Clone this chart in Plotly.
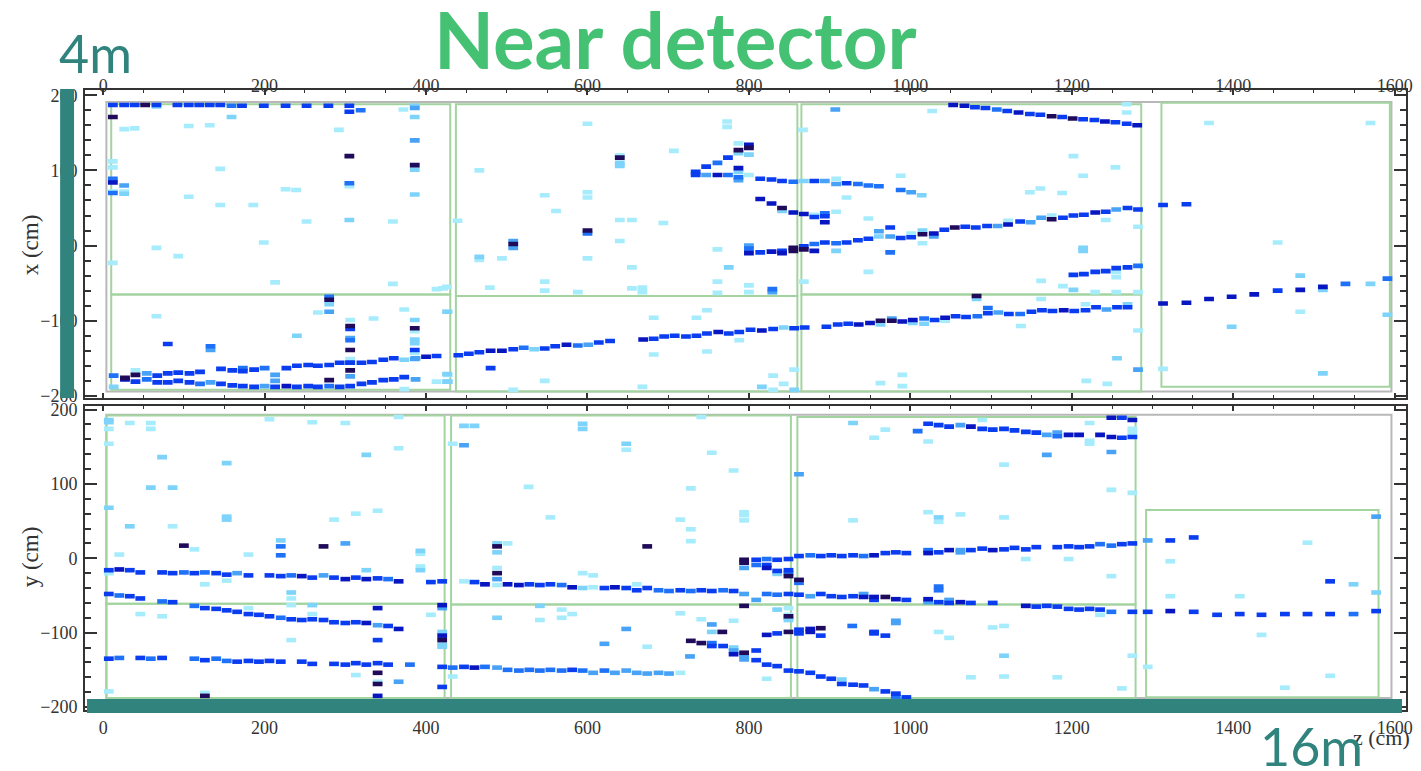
import plotly.graph_objects as go

# ---------------- data: hits (z [cm], transverse coord [cm], charge level 1..7) ----------------
XZ_COL1 = [
    (12,187,5),(26,187,5),(39,187,5),(52,187,7),(66,187,5),(66,185,2),(92,187,5),(106,187,5),(119,187,5),
    (132,187,5),(145,187,5),(159,186,4),(172,186,5),(199,186,5),(226,186,5),(252,186,5),(279,186,5),
    (305,186,5),(305,178,5),(319,180,4),
    (12,171,7),(26,155,1),(39,156,1),(106,159,1),(132,160,1),(159,171,2),(292,154,1),(305,119,7),(372,181,1),
    (386,186,2),(386,183,3),(386,171,2),(386,140,3),(386,107,7),(386,101,2),(386,68,2),(12,112,1),(12,104,1),
    (12,89,4),(12,84,6),(12,72,1),(12,70,4),(26,80,3),(26,72,1),(26,69,2),(145,102,1),(106,65,1),(145,54,1),
    (186,54,1),(226,75,1),(239,74,1),(305,83,4),(305,79,1),(252,32,1),(305,34,2),(359,32,1),(66,-3,1),
    (93,-14,1),(199,4,1),(12,-23,1),(213,-49,1),(359,-51,1),(413,-58,1),(426,-55,1),
    (280,-68,4),(280,-72,7),(280,-78,2),(280,-88,3),(266,-89,1),(426,-88,2),(373,-85,1),(66,-94,1),(335,-97,1),
    (306,-99,1),(306,-107,7),(306,-111,5),(306,-123,3),(306,-126,4),(306,-139,7),(306,-151,1),(306,-156,5),
    (306,-166,7),(306,-174,3),
    (386,-99,2),(386,-110,7),(386,-114,1),(386,-125,2),(386,-130,2),(386,-139,5),(386,-143,1),(386,-151,3),
    (240,-120,2),(80,-131,5),(133,-134,4),(133,-139,3),
    (13,-173,4),(27,-176,7),(40,-172,7),(54,-170,3),(67,-173,5),(80,-170,5),(93,-169,5),(107,-170,5),
    (120,-168,5),(146,-164,5),(160,-166,5),(173,-163,4),(173,-167,5),(187,-165,5),(200,-163,4),(227,-163,5),
    (240,-160,5),(254,-159,5),(266,-160,5),(280,-159,5),(293,-156,5),(306,-156,5),(320,-156,5),(333,-155,5),
    (347,-152,5),(360,-150,5),(373,-152,2),(387,-150,3),(400,-148,6),(413,-147,5),(440,-146,5),(453,-144,5),
    (13,-188,2),(27,-178,6),(40,-181,5),(40,-166,1),(54,-178,4),(67,-182,5),(80,-182,5),(93,-180,5),
    (107,-182,5),(120,-184,4),(133,-182,3),(146,-184,5),(160,-186,5),(173,-187,5),(187,-188,5),(200,-187,3),
    (213,-188,5),(213,-180,3),(213,-172,3),(227,-187,6),(240,-188,5),(254,-187,5),(266,-188,5),(280,-179,7),
    (280,-187,4),(293,-188,5),(306,-187,5),(320,-184,5),(333,-182,5),(347,-179,5),(360,-178,5),(373,-175,5),
    (387,-178,3),(373,-191,1),(413,-181,1),(426,-181,2),(426,-171,2),
]

XZ_COL2 = [
    (600,162,1),(466,100,1),(640,120,1),(640,117,7),(640,110,2),(640,106,2),(707,126,1),(773,165,1),
    (773,158,1),(787,136,1),(787,127,7),(787,123,2),(800,134,6),(800,130,7),(800,121,2),
    (734,98,5),(734,94,5),(747,105,5),(761,110,4),(774,117,5),(787,103,6),(787,98,2),
    (747,94,3),(761,94,6),(774,94,4),(787,91,4),(787,87,3),(800,94,1),(814,89,5),(828,88,5),(841,86,5),
    (855,85,4),(868,86,2),(881,86,5),(894,86,3),(908,89,1),(908,82,3),(921,83,5),(935,82,4),(948,80,4),
    (961,79,4),(988,74,4),(1001,71,3),(1014,67,2),
    (814,62,6),(828,56,6),(841,50,7),(841,46,2),(855,44,6),(868,42,6),(881,38,5),(881,41,1),(894,43,4),
    (894,39,5),(894,31,6),
    (921,64,1),(908,45,1),(948,36,1),(988,93,1),(948,-35,1),
    (800,0,3),(800,-4,4),(800,-10,6),(814,-9,5),(828,-8,6),(841,-7,5),(841,-10,6),(855,-3,7),(855,-7,7),
    (868,-1,5),(868,-5,7),(881,2,4),(881,-7,6),(894,4,5),(908,3,4),(908,-7,2),(921,4,5),(935,7,5),(948,9,5),
    (961,12,2),(961,19,3),(975,24,5),(975,12,3),(975,-9,4),
    (439,33,1),(466,-15,2),(466,-19,1),(494,-17,1),(508,6,3),(508,2,7),(508,-3,3),(547,67,1),(561,46,1),
    (600,71,1),(600,64,1),(600,20,7),(600,16,4),(600,-17,1),(640,34,1),(655,34,1),(640,6,1),(694,30,1),
    (655,-29,1),(761,-5,1),(775,-29,2),(547,-48,1),(547,-60,1),(479,-56,1),(588,-62,1),(655,-57,1),
    (668,-56,1),(668,-62,1),(761,-48,1),(761,-63,1),(800,-53,1),(800,-62,1),(829,-58,4),(829,-62,3),
    (868,-48,1),(867,154,1),(907,181,3),(421,-57,1),
    (466,-142,5),(480,-140,6),(494,-140,6),(508,-138,5),(521,-136,4),(534,-138,2),(547,-137,5),(560,-134,5),
    (574,-132,6),(588,-133,4),(601,-132,3),(614,-129,5),(628,-127,5),(669,-125,6),(682,-124,5),(695,-121,5),
    (708,-120,5),(722,-121,5),(735,-120,5),(748,-117,5),(762,-115,6),(775,-117,5),(788,-115,5),(802,-112,5),
    (816,-113,6),(830,-111,5),(843,-109,2),(856,-110,5),(869,-109,5),(896,-108,5),(910,-105,5),(923,-104,5),
    (936,-105,6),(950,-103,6),(963,-100,7),(963,-105,2),(977,-97,3),(977,-100,7),(990,-101,6),
    (480,-163,5),(427,-88,1),(427,-172,1),(427,-181,2),(508,-192,1),(547,-180,1),(682,-96,1),(682,-145,1),
    (735,-96,1),(748,-86,1),(748,-141,1),(788,-126,1),(668,-188,1),(816,-188,2),(830,-173,1),(830,-192,1),
    (843,-184,1),(856,-165,1),(856,-192,2),(963,-183,1),(990,-172,1),(990,-187,1),
]

XZ_COL3 = [
    (1027,179,1),(1053,187,6),(1067,186,6),(1080,184,5),(1093,183,5),(1107,181,4),(1120,179,5),(1134,177,6),
    (1148,175,5),(1161,174,5),(1175,172,7),(1188,171,5),(1201,169,7),(1214,168,5),(1228,167,5),(1241,165,6),
    (1254,164,5),(1268,162,5),(1281,160,6),(1268,188,1),(1268,177,1),
    (988,10,5),(1001,11,5),(1001,16,1),(1015,15,7),(1015,20,2),(1029,16,6),(1029,12,3),(1042,21,5),
    (1055,24,7),(1068,25,5),(1081,24,5),(1095,26,5),(1108,26,3),(1121,28,6),(1121,33,1),(1136,32,5),
    (1149,31,3),(1162,37,3),(1175,35,7),(1175,40,1),(1189,37,5),(1202,40,5),(1215,41,5),(1229,44,6),
    (1242,45,5),(1255,48,3),(1269,50,5),(1282,48,5),
    (1202,-39,5),(1215,-38,5),(1229,-35,5),(1242,-34,5),(1255,-30,5),(1255,-35,1),(1255,-42,1),(1269,-29,5),
    (1282,-27,4),(1202,-59,2),(1229,-62,1),(1255,-62,1),(1282,-62,1),
    (1202,119,1),(1214,93,1),(1254,104,1),(1148,71,1),(1161,76,1),(1188,70,1),(1015,3,1),(1242,34,1),
    (1282,25,1),(1214,-3,2),(1214,-7,2),(1162,-47,1),(1189,-54,1),(1162,-71,1),(1082,-67,7),(1082,-71,2),
    (1282,-113,1),(1256,-150,2),(1282,-165,3),(1137,-107,1),(1218,-180,1),(1244,-184,1),
    (1003,-99,6),(1003,-103,2),(1017,-97,4),(1017,-104,2),(1030,-99,5),(1043,-96,6),(1043,-100,1),
    (1056,-94,5),(1069,-95,5),(1083,-94,4),(1096,-90,5),(1096,-83,4),(1109,-89,3),(1122,-91,5),(1136,-91,4),
    (1150,-88,5),(1163,-86,5),(1176,-87,5),(1190,-86,6),(1203,-87,5),(1217,-86,5),(1217,-78,1),(1230,-82,5),
    (1243,-85,3),(1256,-82,5),(1269,-82,5),(1269,-78,2),
]

XZ_COL4 = [
    (1313,54,5),(1342,55,5),(1370,163,1),(1570,163,1),(1455,4,1),(1483,-40,2),(1483,-88,1),(1398,-108,2),
    (1511,-170,2),(1591,-92,2),(1313,-164,1),
    (1313,-77,6),(1342,-76,6),(1370,-71,6),(1398,-68,6),(1426,-65,6),(1455,-60,5),(1483,-59,6),(1511,-55,6),
    (1511,-59,2),(1539,-51,4),(1570,-51,2),(1591,-44,4),
]

YZ_COL1 = [
    (7,186,2),(7,183,2),(7,174,1),(7,154,1),(33,182,1),(59,182,1),(59,174,1),(73,136,2),(153,128,2),
    (59,95,2),(86,95,2),(7,68,2),(33,43,2),(86,43,1),(153,56,2),(153,52,2),(100,17,7),(113,12,1),(20,5,1),
    (180,5,1),(220,24,2),(220,16,4),(220,4,4),(273,16,7),(300,20,3),(393,10,2),(393,6,1),(393,-11,1),
    (393,-16,2),(206,187,1),(259,183,1),(300,182,1),(326,139,2),(366,148,1),(366,190,1),(286,52,1),
    (313,60,1),(340,64,1),(447,178,2),(433,154,1),(447,152,3),
    (7,-16,5),(7,-20,1),(20,-15,6),(33,-16,5),(46,-19,5),(73,-19,5),(86,-20,5),(100,-19,4),(113,-20,5),
    (126,-19,4),(140,-20,5),(153,-22,5),(166,-20,3),(180,-23,5),(206,-23,5),(220,-24,5),(233,-23,4),
    (246,-24,6),(259,-26,5),(273,-23,3),(286,-26,5),(300,-28,6),(313,-26,5),(326,-28,6),(340,-27,5),
    (353,-28,4),(366,-31,6),(406,-32,5),(420,-31,5),(447,-31,1),(460,-32,5),
    (7,-48,5),(20,-50,4),(33,-51,5),(46,-54,5),(73,-58,4),(86,-59,5),(113,-64,4),(126,-67,5),(140,-68,5),
    (153,-70,5),(166,-72,5),(180,-75,5),(193,-76,5),(206,-78,5),(220,-80,4),(233,-82,5),(246,-83,5),
    (259,-82,5),(273,-83,5),(286,-86,5),(300,-87,5),(313,-86,5),(326,-87,6),(340,-90,3),(353,-91,5),
    (366,-95,6),
    (46,-75,1),(73,-78,1),(180,-67,1),(233,-46,2),(233,-54,1),(233,-63,1),(259,-63,2),(259,-75,1),
    (233,-110,1),(340,-67,6),(340,-110,5),(406,-76,1),(420,-63,6),(420,-67,3),(420,-99,2),(420,-104,6),
    (420,-110,7),(420,-116,2),(420,-119,2),(126,-35,1),(153,-30,1),(326,-16,2),
    (7,-135,5),(20,-134,4),(46,-134,5),(59,-135,4),(73,-134,5),(113,-135,4),(126,-137,5),(140,-135,4),
    (153,-138,4),(166,-139,5),(180,-138,5),(193,-139,5),(206,-138,5),(220,-139,5),(246,-139,5),(259,-142,5),
    (286,-142,5),(300,-143,5),(313,-141,5),(326,-143,5),(340,-141,5),(353,-143,5),(380,-143,4),(420,-146,5),
    (433,-147,4),(447,-146,5),(460,-147,6),
    (340,-154,7),(340,-166,1),(340,-169,7),(340,-185,6),(366,-166,3),(420,-173,5),(313,-157,1),(433,-159,1),
    (126,-181,1),(126,-185,7),(7,-179,1),
]

YZ_COL2 = [
    (460,178,2),(594,181,2),(594,174,2),(648,154,2),(648,146,1),(741,190,1),(754,142,1),(781,118,1),
    (527,96,1),(554,55,1),(728,94,1),(715,52,1),(728,39,1),(728,23,1),(794,62,1),(794,58,1),(794,51,1),
    (488,16,7),(488,20,2),(488,8,2),(501,20,1),(674,16,7),(488,-13,1),(488,-20,7),(488,-28,3),(488,-36,1),
    (594,-20,1),(607,-23,1),(661,-35,1),
    (473,-35,6),(501,-35,6),(515,-36,6),(528,-35,5),(541,-36,5),(554,-35,5),(568,-36,4),(581,-39,6),
    (594,-40,2),(607,-39,1),(621,-40,5),(634,-39,6),(648,-40,5),(661,-43,5),(674,-40,5),(688,-43,4),
    (701,-44,4),(715,-43,5),(728,-44,4),(741,-43,5),(754,-44,5),(768,-43,4),(781,-44,5),(794,-48,3),
    (809,-56,3),(822,-48,4),(835,-49,4),(849,-48,5),(862,-49,5),(876,-51,3),(889,-48,5),(902,-51,5),
    (915,-52,5),(929,-51,5),(942,-48,3),(942,-52,6),(955,-52,6),(955,-56,5),(969,-52,7),(982,-55,6),
    (995,-56,5),
    (473,-146,4),(488,-147,3),(501,-150,4),(515,-151,4),(528,-150,4),(541,-151,4),(554,-150,4),(568,-151,4),
    (581,-150,5),(594,-151,4),(607,-154,3),(621,-151,4),(634,-154,3),(648,-151,3),(661,-154,3),(674,-155,3),
    (688,-154,3),(701,-155,3),(715,-154,1),
    (728,-111,7),(741,-114,7),(754,-118,5),(754,-114,4),(768,-118,5),(781,-120,2),(781,-124,3),(781,-129,6),
    (794,-127,7),(794,-131,3),(794,-136,3),(809,-137,5),(822,-143,5),(835,-145,5),(849,-151,5),(862,-152,5),
    (876,-154,5),(889,-159,5),(902,-162,5),(915,-163,2),(915,-169,5),(929,-170,5),(942,-171,5),(955,-176,3),
    (969,-179,5),(982,-182,5),(982,-186,4),(995,-187,5),
    (809,-124,5),(822,-103,6),(835,-101,5),(849,-99,7),(862,-96,5),(862,-101,5),(876,-95,6),(876,-99,6),
    (889,-94,7),(889,-104,5),(928,-91,4),(955,-101,5),(955,-99,5),(969,-104,5),(982,-84,3),(982,-87,3),
    (767,-99,7),(754,-89,3),(754,-99,2),(727,-132,3),(715,-74,1),(741,-82,1),(781,-84,1),(835,-69,2),
    (849,-67,1),(849,-76,1),(849,-80,2),(849,-83,2),(849,-78,7),(794,-64,7),
    (862,-29,7),(862,-33,4),(849,-16,5),(849,-20,4),(849,-24,7),(835,-17,5),(835,-21,2),(822,-1,4),
    (822,-9,5),(822,-13,6),(809,-2,5),(809,-9,4),(794,-2,7),(794,-6,7),(794,-13,3),(849,-1,5),(835,-2,5),
    (862,3,5),(876,4,4),(889,3,5),(902,4,5),(915,3,5),(929,4,5),(942,3,4),(955,4,6),(969,7,5),(982,8,5),
    (995,7,5),
    (488,-80,2),(541,-64,2),(541,-83,1),(568,-69,1),(568,-80,1),(581,-75,1),(621,-115,3),(648,-95,3),
    (674,-119,1),(822,-162,1),
    (929,182,2),(955,162,1),(969,173,1),(862,113,3),(929,51,1),
]

YZ_COL3 = [
    (1009,171,4),(1022,181,5),(1035,179,5),(1048,177,5),(1062,179,3),(1075,177,6),(1089,174,5),(1102,173,5),
    (1116,174,5),(1129,172,5),(1143,170,5),(1156,169,5),(1169,166,3),(1182,169,3),(1182,164,4),(1196,166,6),
    (1209,166,6),(1235,166,6),(1249,163,6),(1262,162,5),(1275,163,5),
    (1249,189,6),(1262,189,5),(1275,186,6),
    (1022,157,1),(1089,186,1),(1222,182,1),(1222,158,1),(1222,154,1),(1249,143,3),(1169,139,3),(1116,126,1),
    (1275,174,1),(1275,169,1),(1249,92,1),(1275,88,1),(1022,62,1),(1035,55,2),(1035,49,1),(1062,59,1),
    (1116,55,1),(1143,-1,1),(1196,-1,1),(1249,-24,1),
    (1022,11,4),(1022,7,6),(1035,8,5),(1048,11,6),(1062,11,3),(1062,8,3),(1075,11,5),(1089,13,5),
    (1102,11,6),(1116,12,5),(1129,14,5),(1143,12,5),(1156,15,5),(1182,15,5),(1196,16,5),(1209,15,5),
    (1222,16,5),(1235,19,4),(1249,17,4),(1262,19,5),(1275,20,5),
    (1022,-55,6),(1022,-59,3),(1035,-59,5),(1048,-56,3),(1048,-60,5),(1062,-59,6),(1075,-60,5),(1102,-60,5),
    (1143,-64,6),(1156,-65,5),(1169,-64,5),(1182,-65,5),(1196,-68,5),(1209,-69,5),(1222,-68,5),(1235,-69,5),
    (1235,-76,1),(1249,-72,4),(1275,-72,5),
    (1035,-38,4),(1035,-43,4),(1035,-99,1),(1048,-107,1),(1102,-93,1),(1116,-91,1),(1116,-131,2),
    (1075,-160,1),(1116,-159,1),(1182,-160,1),(1262,-175,1),(1275,-131,1),
]

YZ_COL4 = [
    (1294,-72,5),(1322,-71,6),(1351,-72,5),(1380,-76,5),(1408,-75,5),(1435,-76,5),(1464,-75,5),(1492,-75,5),
    (1520,-75,5),(1549,-75,4),(1577,-71,5),
    (1294,24,3),(1322,24,5),(1351,28,5),
    (1322,-4,1),(1322,-51,1),(1408,-51,1),(1492,21,1),(1520,-31,5),(1549,-35,2),(1577,56,3),(1577,-46,2),
    (1435,-103,1),(1520,-158,1),(1464,-174,1),(1294,-146,1),
]

# detector module outlines (z0, z1, v0, v1)
XZ_OUTER = [(4, 1596, -194, 191)]
XZ_MODULES = [(10, 430, -65, 188), (10, 430, -192, -65), (437, 860, -67, 188), (437, 860, -194, -67),
              (865, 1286, -65, 188), (865, 1286, -194, -65), (1311, 1594, -188, 190)]
YZ_OUTER = [(4, 1596, -188, 193)]
YZ_MODULES = [(4, 423, -61, 192), (4, 423, -188, -61), (431, 852, -62, 192), (431, 852, -188, -62),
              (860, 1279, -62, 190), (860, 1279, -188, -62), (1292, 1580, -187, 65)]

Z_RANGE = [-22.5, 1614]
XZ_RANGE = [-203, 207]
YZ_RANGE = [-204, 204.5]

LEVEL_COLORS = {1: "#a6ecfc", 2: "#7ed3fa", 3: "#48a2f5", 4: "#1f72f7",
                5: "#0a3cf0", 6: "#0716c0", 7: "#1f0b5a"}

TEAL = "#31847e"
AXC = "#333333"
SERIF = "Liberation Serif, DejaVu Serif, serif"

fig = go.Figure()


def add_hits(hits, xa, ya):
    for lvl in range(1, 8):
        pts = [h for h in hits if h[2] == lvl]
        if not pts:
            continue
        fig.add_trace(go.Scatter(
            x=[p[0] for p in pts], y=[p[1] for p in pts], xaxis=xa, yaxis=ya,
            mode="markers", hoverinfo="skip", showlegend=False,
            marker=dict(symbol="line-ew", size=7, color=LEVEL_COLORS[lvl],
                        line=dict(width=4.6, color=LEVEL_COLORS[lvl]))))


add_hits(XZ_COL1 + XZ_COL2 + XZ_COL3 + XZ_COL4, "x", "y")
add_hits(YZ_COL1 + YZ_COL2 + YZ_COL3 + YZ_COL4, "x2", "y2")

shapes = []
for boxes, color, xr, yr in [(XZ_OUTER, "#b8b8b8", "x", "y"), (XZ_MODULES, "#a3d4a0", "x", "y"),
                             (YZ_OUTER, "#b8b8b8", "x2", "y2"), (YZ_MODULES, "#a3d4a0", "x2", "y2")]:
    for (z0, z1, v0, v1) in boxes:
        shapes.append(dict(type="rect", xref=xr, yref=yr, x0=z0, x1=z1, y0=v0, y1=v1,
                           line=dict(color=color, width=2), fillcolor="rgba(0,0,0,0)", layer="below"))

# the page body has an 8px margin, so the figure is 8px smaller and everything is placed in page pixels
W, H = 1328.0, 620.0          # plot area size in px (page x 85..1413, page y 90..710)
def px(xp): return (xp - 85) / W
def py(yp): return (710 - yp) / H

shapes.append(dict(type="rect", xref="paper", yref="paper", x0=px(60), x1=px(74), y0=py(398), y1=py(89),
                   line=dict(width=0), fillcolor=TEAL, layer="above"))
shapes.append(dict(type="rect", xref="paper", yref="paper", x0=px(87), x1=px(1409), y0=py(713), y1=py(699),
                   line=dict(width=0), fillcolor=TEAL, layer="above"))

axis_common = dict(showline=True, linecolor=AXC, linewidth=2, mirror="ticks", ticks="inside",
                   tickcolor=AXC, showgrid=False, zeroline=False,
                   tickfont=dict(family=SERIF, size=18, color=AXC))

xaxis_style = dict(axis_common, range=Z_RANGE, tick0=0, dtick=200, ticklen=5, tickwidth=1.5,
                   minor=dict(dtick=50, tick0=0, ticklen=3, ticks="inside", tickcolor=AXC, tickwidth=1))
yaxis_style = dict(axis_common, tick0=0, dtick=100, ticklen=12, tickwidth=1.5,
                   minor=dict(dtick=20, tick0=0, ticklen=6, ticks="inside", tickcolor=AXC, tickwidth=1.5),
                   ticklabelstandoff=2)

annotations = [
    dict(text="<b>Near detector</b>", x=px(679), y=py(39), xref="paper", yref="paper", showarrow=False,
         xanchor="center", yanchor="middle", font=dict(family="Lato, Open Sans, sans-serif", size=78, color="#45c173")),
    dict(text="4m", x=px(96), y=py(53), xref="paper", yref="paper", showarrow=False,
         xanchor="center", yanchor="middle", font=dict(family="Lato, Open Sans, sans-serif", size=52, color=TEAL)),
    dict(text="x (cm)", x=px(30), y=py(245), xref="paper", yref="paper", showarrow=False, textangle=-90,
         xanchor="center", yanchor="middle", font=dict(family=SERIF, size=23, color=AXC)),
    dict(text="y (cm)", x=px(30), y=py(557), xref="paper", yref="paper", showarrow=False, textangle=-90,
         xanchor="center", yanchor="middle", font=dict(family=SERIF, size=23, color=AXC)),
    dict(text="z (cm)", x=px(1419), y=py(737), xref="paper", yref="paper", showarrow=False,
         xanchor="right", yanchor="middle", font=dict(family=SERIF, size=22, color=AXC)),
    dict(text="16m", x=px(1318), y=py(746), xref="paper", yref="paper", showarrow=False,
         xanchor="center", yanchor="middle", font=dict(family="Lato, Open Sans, sans-serif", size=52, color=TEAL)),
    dict(text="NOvA - FNAL E929", x=px(20), y=py(767), xref="paper", yref="paper", showarrow=False,
         xanchor="left", yanchor="top", font=dict(family="Liberation Sans, sans-serif", size=15, color="#777777")),
]

fig.update_layout(
    width=1413, height=763,
    margin=dict(l=77, r=8, t=82, b=61),
    paper_bgcolor="white", plot_bgcolor="white",
    showlegend=False,
    xaxis=dict(xaxis_style, domain=[0, 1], anchor="y", side="top", ticklabelstandoff=-11),
    yaxis=dict(yaxis_style, domain=[0.503, 1], range=XZ_RANGE, anchor="x"),
    xaxis2=dict(xaxis_style, domain=[0, 1], anchor="y2", side="bottom", matches="x",
                ticklabelstandoff=0),
    yaxis2=dict(yaxis_style, domain=[0, 0.490], range=YZ_RANGE, anchor="x2"),
    shapes=shapes,
    annotations=annotations,
)

fig.write_html("out.html")
